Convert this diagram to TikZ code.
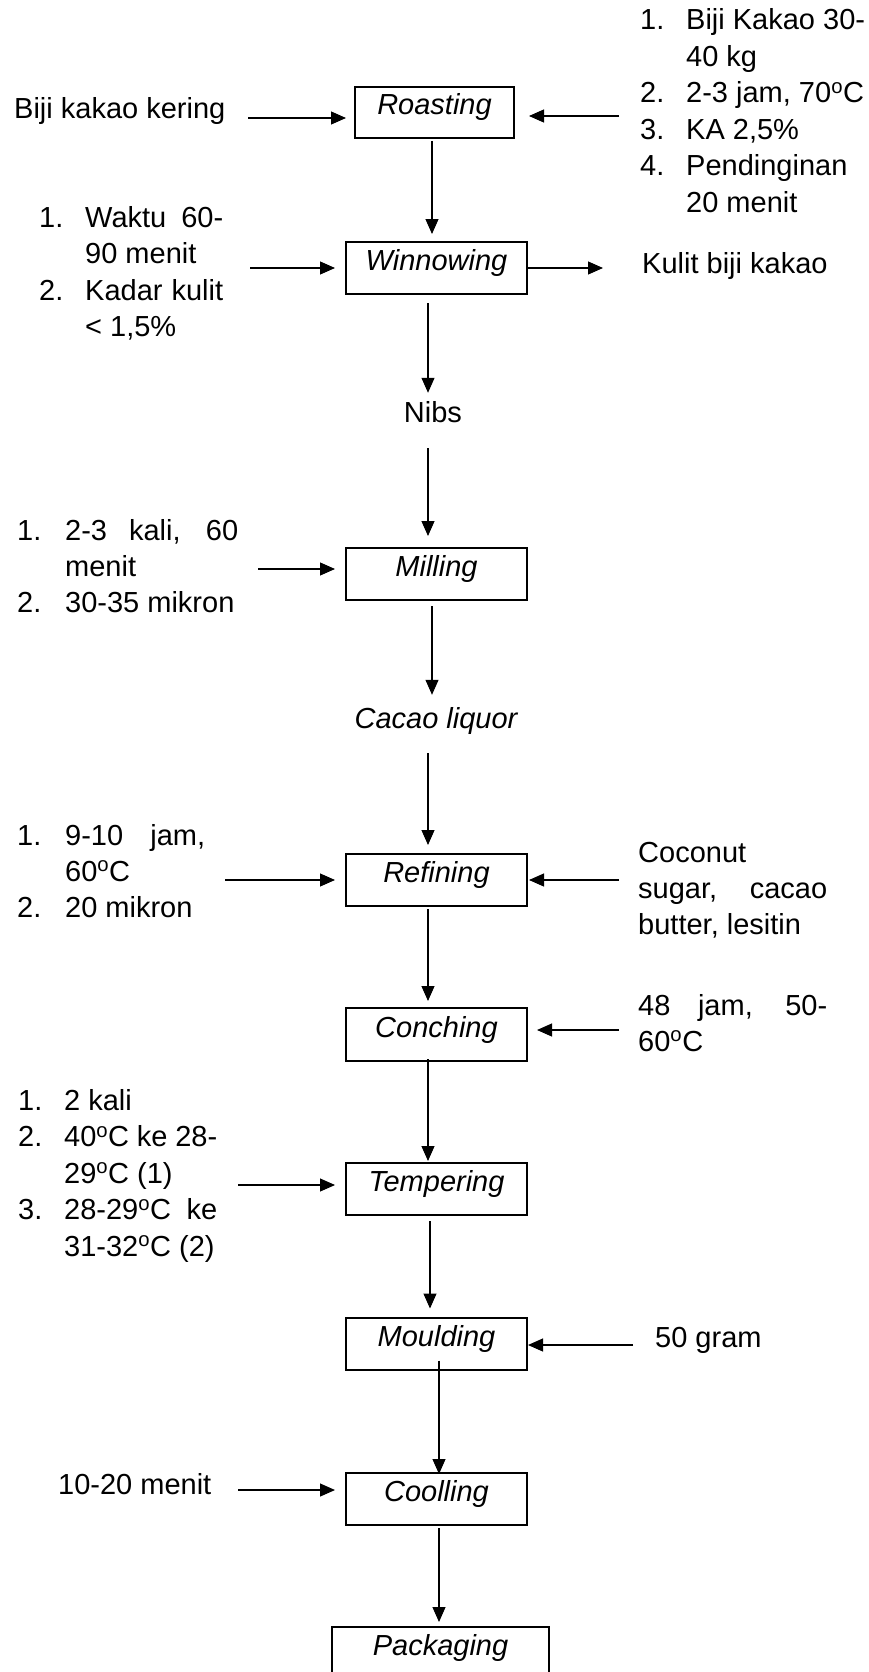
\documentclass[tikz,border=0pt]{standalone}
\usepackage{fontspec}
\setmainfont{Liberation Sans}
\usetikzlibrary{arrows.meta}
\newcommand\myfs{\fontsize{29}{36}\selectfont}
\newcommand\dg{\textsuperscript{o}}
\begin{document}
\begin{tikzpicture}[x=1pt,y=-1pt,
  txt/.style={anchor=base west, inner sep=0pt, font=\myfs},
  ctxt/.style={anchor=base, inner sep=0pt, font=\myfs},
  procbox/.style={draw, line width=2pt, minimum width=181pt, minimum height=52pt, inner sep=0pt, text height=15pt, text depth=10pt, font=\myfs\itshape},
  arr/.style={line width=1.1pt, -{Triangle[length=15pt,width=13pt]}}]
\useasboundingbox (0,0) rectangle (869,1672);

% process boxes
\node[procbox, minimum width=159pt, minimum height=51pt] (roast) at (434.5,112.5) {Roasting};
\node[procbox] (winn) at (436.5,268) {Winnowing};
\node[procbox] (mill) at (436.5,574) {Milling};
\node[procbox] (refi) at (436.5,880) {Refining};
\node[procbox, minimum height=53pt] (conc) at (436.5,1034.5) {Conching};
\node[procbox] (temp) at (436.5,1189) {Tempering};
\node[procbox] (mould) at (436.5,1343.5) {Moulding};
\node[procbox] (cool) at (436.5,1499) {Coolling};
\node[procbox, minimum width=217pt] (pack) at (440.5,1653) {Packaging};

% intermediate products
\node[ctxt] (nibs) at (433,422) {Nibs};
\node[ctxt, font=\myfs\itshape] (liq) at (436,728) {Cacao liquor};

% inputs / outputs
\node[txt] (bkk) at (14,119) {Biji kakao kering};

\node[txt] (r1n) at (640,30) {1.};
\node[txt] (r1) at (686,30) {Biji Kakao 30-};
\node[txt] (r1b) at (686,66.5) {40 kg};
\node[txt] (r2n) at (640,103) {2.};
\node[txt] (r2) at (686,103) {2-3 jam, 70\dg C};
\node[txt] (r3n) at (640,139.5) {3.};
\node[txt] (r3) at (686,139.5) {KA 2,5\%};
\node[txt] (r4n) at (640,176) {4.};
\node[txt] (r4) at (686,176) {Pendinginan};
\node[txt] (r4b) at (686,212.5) {20 menit};

\node[txt] (w1n) at (39,227) {1.};
\node[txt] (w1) at (85,227) {\makebox[138pt][s]{Waktu 60-}};
\node[txt] (w1b) at (85,263.5) {90 menit};
\node[txt] (w2n) at (39,300) {2.};
\node[txt] (w2) at (85,300) {\makebox[138pt][s]{Kadar kulit}};
\node[txt] (w2b) at (85,336.5) {< 1,5\%};

\node[txt] (kulit) at (642,273) {Kulit biji kakao};

\node[txt] (m1n) at (17,540) {1.};
\node[txt] (m1) at (65,540) {\makebox[173pt][s]{2-3 kali, 60}};
\node[txt] (m1b) at (65,576) {menit};
\node[txt] (m2n) at (17,612) {2.};
\node[txt] (m2) at (65,612) {30-35 mikron};

\node[txt] (f1n) at (17,845) {1.};
\node[txt] (f1) at (65,845) {\makebox[140pt][s]{9-10 jam,}};
\node[txt] (f1b) at (65,881) {60\dg C};
\node[txt] (f2n) at (17,917) {2.};
\node[txt] (f2) at (65,917) {20 mikron};

\node[txt] (c1) at (638,862) {Coconut};
\node[txt] (c2) at (638,898) {\makebox[189pt][s]{sugar, cacao}};
\node[txt] (c3) at (638,934) {butter, lesitin};

\node[txt] (k1) at (638,1015) {\makebox[189pt][s]{48 jam, 50-}};
\node[txt] (k2) at (638,1051) {60\dg C};

\node[txt] (t1n) at (18,1110) {1.};
\node[txt] (t1) at (64,1110) {2 kali};
\node[txt] (t2n) at (18,1146.5) {2.};
\node[txt] (t2) at (64,1146.5) {\makebox[153pt][s]{40\dg C ke 28-}};
\node[txt] (t2b) at (64,1183) {29\dg C (1)};
\node[txt] (t3n) at (18,1219.5) {3.};
\node[txt] (t3) at (64,1219.5) {\makebox[153pt][s]{28-29\dg C ke}};
\node[txt] (t3b) at (64,1256) {31-32\dg C (2)};

\node[txt] (gram) at (655,1347) {50 gram};
\node[txt] (menit) at (58,1494) {10-20 menit};

% free ends of side arrows
\coordinate (h1) at (248,118);
\coordinate (h2) at (619,116);
\coordinate (h3) at (250,268);
\coordinate (h4) at (603,268);
\coordinate (h5) at (258,569);
\coordinate (h6) at (225,880);
\coordinate (h7) at (619,880);
\coordinate (h8) at (619,1030);
\coordinate (h9) at (238,1185);
\coordinate (h10) at (633,1345);
\coordinate (h11) at (238,1490);

% side arrows
\draw[arr, shorten >=8pt] (h1) -- (h1 -| roast.west);
\draw[arr, shorten >=14pt] (h2) -- (h2 -| roast.east);
\draw[arr, shorten >=10pt] (h3) -- (h3 -| winn.west);
\draw[arr] (h4 -| winn.east) -- (h4);
\draw[arr, shorten >=10pt] (h5) -- (h5 -| mill.west);
\draw[arr, shorten >=10pt] (h6) -- (h6 -| refi.west);
\draw[arr, shorten >=1pt] (h7) -- (h7 -| refi.east);
\draw[arr, shorten >=9pt] (h8) -- (h8 -| conc.east);
\draw[arr, shorten >=10pt] (h9) -- (h9 -| temp.west);
\draw[arr] (h10) -- (h10 -| mould.east);
\draw[arr, shorten >=10pt] (h11) -- (h11 -| cool.west);

% main flow
\draw[arr] ([xshift=-2.5pt,yshift=-2pt]roast.south) -- ([xshift=-4.5pt,yshift=7pt]winn.north);
\draw[arr] ([xshift=-8.5pt,yshift=-8pt]winn.south) -- ([xshift=-5pt,yshift=8pt]nibs.north);
\draw[arr] ([xshift=-5pt,yshift=-26pt]nibs.south) -- ([xshift=-8.5pt,yshift=11pt]mill.north);
\draw[arr] ([xshift=-4.5pt,yshift=-5pt]mill.south) -- ([xshift=-4pt,yshift=12pt]liq.north);
\draw[arr] ([xshift=-8pt,yshift=-19pt]liq.south) -- ([xshift=-8.5pt,yshift=8pt]refi.north);
\draw[arr] ([xshift=-8.5pt,yshift=-2pt]refi.south) -- ([xshift=-8.5pt,yshift=6pt]conc.north);
\draw[arr] ([xshift=-8.5pt,yshift=3pt]conc.south) -- ([xshift=-8.5pt,yshift=1pt]temp.north);
\draw[arr] ([xshift=-6.5pt,yshift=-5pt]temp.south) -- ([xshift=-6.5pt,yshift=8pt]mould.north);
\draw[arr] ([xshift=2.5pt,yshift=10pt]mould.south) -- ([xshift=2.5pt,yshift=-2pt]cool.north);
\draw[arr] ([xshift=2.5pt,yshift=-2pt]cool.south) -- ([xshift=-1.5pt,yshift=4pt]pack.north);
\end{tikzpicture}
\end{document}
